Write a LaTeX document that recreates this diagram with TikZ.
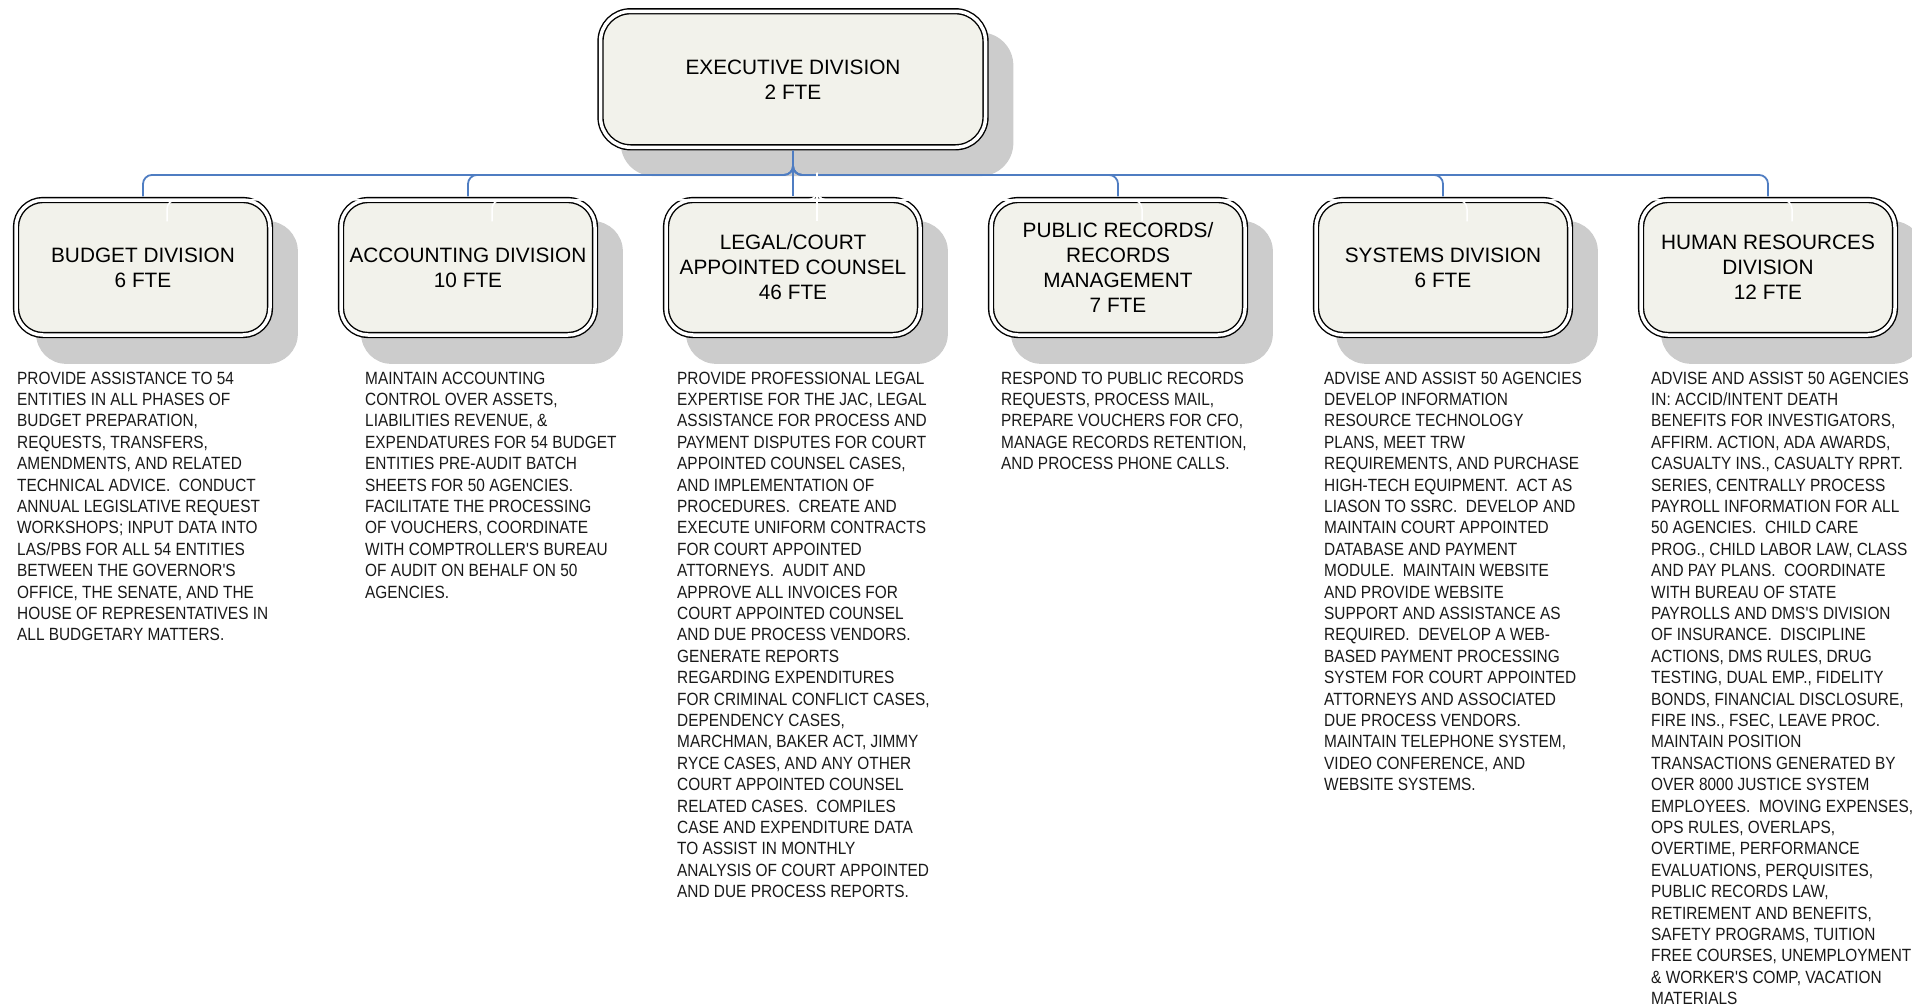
\documentclass[tikz,border=0pt]{standalone}
\usepackage{fontspec}
\setmainfont{Liberation Sans}
\newfontfamily\narrowfont[FakeStretch=0.87]{Liberation Sans}
\usetikzlibrary{calc, backgrounds}
\definecolor{boxcream}{rgb}{0.949, 0.949, 0.922}
\definecolor{shadowgrey}{rgb}{0.8, 0.8, 0.8}
\definecolor{linkblue}{rgb}{0.310, 0.490, 0.760}

\tikzset{
    divbox/.style={draw=black, double=white, double distance=3.5pt, line width=1.4pt,
        fill=boxcream, rounded corners=27pt, align=center, inner sep=0pt,
        minimum width=254pt, minimum height=135pt, font=\fontsize{20.8}{25}\selectfont},
    desctext/.style={anchor=north west, align=left, inner sep=0pt, text=black!90,
        font=\narrowfont\fontsize{17.7}{21.4}\selectfont},
    orgline/.style={draw=linkblue, line width=1.8pt, rounded corners=9pt,
        shorten <=3pt, shorten >=3pt},
    ghostline/.style={draw=white, line width=1.5pt, rounded corners=9pt, shorten >=3pt}
}

\begin{document}
\begin{tikzpicture}[x=1pt, y=-1pt]
    \useasboundingbox (0,0) rectangle (1912,1007);

    \node[divbox, minimum width=385pt, minimum height=136pt, rounded corners=30pt] (exec) at (793, 79.25) {EXECUTIVE DIVISION\\2 FTE};

    \node[divbox] (budget) at (143, 267.5) {BUDGET DIVISION\\6 FTE};
    \node[divbox] (accounting) at (468, 267.5) {ACCOUNTING DIVISION\\10 FTE};
    \node[divbox] (legal) at (793, 267.5) {LEGAL/COURT\\APPOINTED COUNSEL\\46 FTE};
    \node[divbox] (records) at (1118, 267.5) {PUBLIC RECORDS/\\RECORDS\\MANAGEMENT\\7 FTE};
    \node[divbox] (systems) at (1443, 267.5) {SYSTEMS DIVISION\\6 FTE};
    \node[divbox] (hr) at (1768, 267.5) {HUMAN RESOURCES\\DIVISION\\12 FTE};

    % drop shadows behind the boxes
    \begin{scope}[on background layer]
        \fill[shadowgrey, rounded corners=33pt] ($(exec.north west)+(20.85,21.85)$) rectangle ($(exec.south east)+(27.15,28.15)$);
        \fill[shadowgrey, rounded corners=30pt] ($(budget.north west)+(20.85,21.85)$) rectangle ($(budget.south east)+(27.15,28.15)$);
        \fill[shadowgrey, rounded corners=30pt] ($(accounting.north west)+(20.85,21.85)$) rectangle ($(accounting.south east)+(27.15,28.15)$);
        \fill[shadowgrey, rounded corners=30pt] ($(legal.north west)+(20.85,21.85)$) rectangle ($(legal.south east)+(27.15,28.15)$);
        \fill[shadowgrey, rounded corners=30pt] ($(records.north west)+(20.85,21.85)$) rectangle ($(records.south east)+(27.15,28.15)$);
        \fill[shadowgrey, rounded corners=30pt] ($(systems.north west)+(20.85,21.85)$) rectangle ($(systems.south east)+(27.15,28.15)$);
        \fill[shadowgrey, rounded corners=30pt] ($(hr.north west)+(20.85,21.85)$) rectangle ($(hr.south east)+(27.15,28.15)$);
    \end{scope}

    \draw[orgline] (exec.south) -- ++(0,27) -| (budget.north);
    \draw[orgline] (exec.south) -- ++(0,27) -| (accounting.north);
    \draw[orgline] (exec.south) -- (legal.north);
    \draw[orgline] (exec.south) -- ++(0,27) -| (records.north);
    \draw[orgline] (exec.south) -- ++(0,27) -| (systems.north);
    \draw[orgline] (exec.south) -- ++(0,27) -| (hr.north);

    % white copies of the connectors, offset like the shadows
    \draw[ghostline] ($(exec.south)+(24,25)$) -- ++(0,27) -| ($(budget.north)+(24,25)$);
    \draw[ghostline] ($(exec.south)+(24,25)$) -- ++(0,27) -| ($(accounting.north)+(24,25)$);
    \draw[ghostline] ($(exec.south)+(24,25)$) -- ($(legal.north)+(24,25)$);
    \draw[ghostline] ($(exec.south)+(24,25)$) -- ++(0,27) -| ($(records.north)+(24,25)$);
    \draw[ghostline] ($(exec.south)+(24,25)$) -- ++(0,27) -| ($(systems.north)+(24,25)$);
    \draw[ghostline] ($(exec.south)+(24,25)$) -- ++(0,27) -| ($(hr.north)+(24,25)$);

    \node[desctext] (budgettxt) at (17, 371.5) {PROVIDE ASSISTANCE TO 54\\ENTITIES IN ALL PHASES OF\\BUDGET PREPARATION,\\REQUESTS, TRANSFERS,\\AMENDMENTS, AND RELATED\\TECHNICAL ADVICE.~ CONDUCT\\ANNUAL LEGISLATIVE REQUEST\\WORKSHOPS; INPUT DATA INTO\\LAS/PBS FOR ALL 54 ENTITIES\\BETWEEN THE GOVERNOR'S\\OFFICE, THE SENATE, AND THE\\HOUSE OF REPRESENTATIVES IN\\ALL BUDGETARY MATTERS.};
    \node[desctext] (accountingtxt) at (365, 371.5) {MAINTAIN ACCOUNTING\\CONTROL OVER ASSETS,\\LIABILITIES REVENUE, \&\\EXPENDATURES FOR 54 BUDGET\\ENTITIES PRE-AUDIT BATCH\\SHEETS FOR 50 AGENCIES.\\FACILITATE THE PROCESSING\\OF VOUCHERS, COORDINATE\\WITH COMPTROLLER'S BUREAU\\OF AUDIT ON BEHALF ON 50\\AGENCIES.};
    \node[desctext] (legaltxt) at (677, 371.5) {PROVIDE PROFESSIONAL LEGAL\\EXPERTISE FOR THE JAC, LEGAL\\ASSISTANCE FOR PROCESS AND\\PAYMENT DISPUTES FOR COURT\\APPOINTED COUNSEL CASES,\\AND IMPLEMENTATION OF\\PROCEDURES.~ CREATE AND\\EXECUTE UNIFORM CONTRACTS\\FOR COURT APPOINTED\\ATTORNEYS.~ AUDIT AND\\APPROVE ALL INVOICES FOR\\COURT APPOINTED COUNSEL\\AND DUE PROCESS VENDORS.\\GENERATE REPORTS\\REGARDING EXPENDITURES\\FOR CRIMINAL CONFLICT CASES,\\DEPENDENCY CASES,\\MARCHMAN, BAKER ACT, JIMMY\\RYCE CASES, AND ANY OTHER\\COURT APPOINTED COUNSEL\\RELATED CASES.~ COMPILES\\CASE AND EXPENDITURE DATA\\TO ASSIST IN MONTHLY\\ANALYSIS OF COURT APPOINTED\\AND DUE PROCESS REPORTS.};
    \node[desctext] (recordstxt) at (1001, 371.5) {RESPOND TO PUBLIC RECORDS\\REQUESTS, PROCESS MAIL,\\PREPARE VOUCHERS FOR CFO,\\MANAGE RECORDS RETENTION,\\AND PROCESS PHONE CALLS.};
    \node[desctext] (systemstxt) at (1324, 371.5) {ADVISE AND ASSIST 50 AGENCIES\\DEVELOP INFORMATION\\RESOURCE TECHNOLOGY\\PLANS, MEET TRW\\REQUIREMENTS, AND PURCHASE\\HIGH-TECH EQUIPMENT.~ ACT AS\\LIASON TO SSRC.~ DEVELOP AND\\MAINTAIN COURT APPOINTED\\DATABASE AND PAYMENT\\MODULE.~ MAINTAIN WEBSITE\\AND PROVIDE WEBSITE\\SUPPORT AND ASSISTANCE AS\\REQUIRED.~ DEVELOP A WEB-\\BASED PAYMENT PROCESSING\\SYSTEM FOR COURT APPOINTED\\ATTORNEYS AND ASSOCIATED\\DUE PROCESS VENDORS.\\MAINTAIN TELEPHONE SYSTEM,\\VIDEO CONFERENCE, AND\\WEBSITE SYSTEMS.};
    \node[desctext] (hrtxt) at (1651, 371.5) {ADVISE AND ASSIST 50 AGENCIES\\IN: ACCID/INTENT DEATH\\BENEFITS FOR INVESTIGATORS,\\AFFIRM. ACTION, ADA AWARDS,\\CASUALTY INS., CASUALTY RPRT.\\SERIES, CENTRALLY PROCESS\\PAYROLL INFORMATION FOR ALL\\50 AGENCIES.~ CHILD CARE\\PROG., CHILD LABOR LAW, CLASS\\AND PAY PLANS.~ COORDINATE\\WITH BUREAU OF STATE\\PAYROLLS AND DMS'S DIVISION\\OF INSURANCE.~ DISCIPLINE\\ACTIONS, DMS RULES, DRUG\\TESTING, DUAL EMP., FIDELITY\\BONDS, FINANCIAL DISCLOSURE,\\FIRE INS., FSEC, LEAVE PROC.\\MAINTAIN POSITION\\TRANSACTIONS GENERATED BY\\OVER 8000 JUSTICE SYSTEM\\EMPLOYEES.~ MOVING EXPENSES,\\OPS RULES, OVERLAPS,\\OVERTIME, PERFORMANCE\\EVALUATIONS, PERQUISITES,\\PUBLIC RECORDS LAW,\\RETIREMENT AND BENEFITS,\\SAFETY PROGRAMS, TUITION\\FREE COURSES, UNEMPLOYMENT\\\& WORKER'S COMP, VACATION\\MATERIALS};
\end{tikzpicture}
\end{document}
